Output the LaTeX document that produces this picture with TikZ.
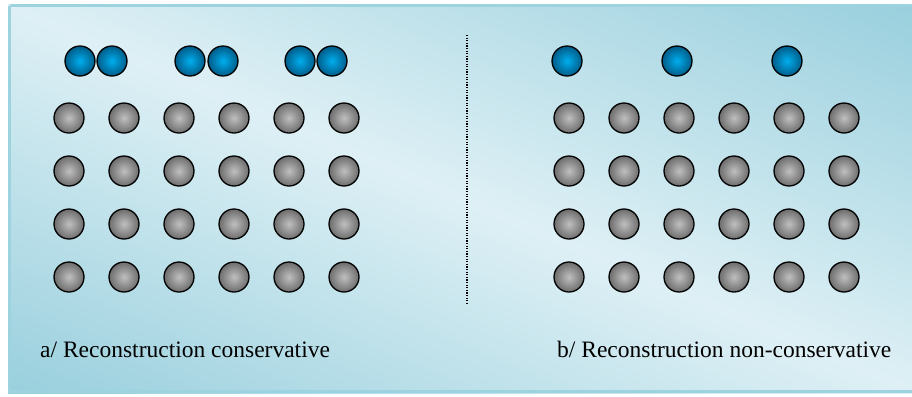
\documentclass[tikz,border=0pt]{standalone}
\usepackage{fontspec}
\setmainfont{Liberation Serif}
\definecolor{bgdark}{HTML}{98CFDD}
\definecolor{bglight}{HTML}{DEF0F5}
\definecolor{bgedge}{HTML}{9DD2DF}
\definecolor{blueball}{HTML}{00AEEF}
\definecolor{blueedge}{HTML}{005C88}
\tikzset{
  grayball/.style={circle, minimum size=30bp, inner sep=0pt, draw=black, line width=1.3bp,
     shade, inner color=gray!50, outer color=gray!85!black},
  blueball/.style={circle, minimum size=30bp, inner sep=0pt, draw=black, line width=1.3bp,
     shade, inner color=blueball, outer color=blueedge},
  caption/.style={font=\fontsize{23.5bp}{28bp}\selectfont, anchor=base west, inner sep=0pt}
}
\begin{document}
\begin{tikzpicture}[x=1bp,y=-1bp]
\useasboundingbox (0,0) rectangle (912,396);
\fill[white] (0,0) rectangle (912,396);
\begin{scope}
  \clip (8,4) rectangle (912,393);
  \begin{scope}[transform canvas={rotate around={-23:(460,198)}}]
    \shade[top color=bgdark, bottom color=bgdark, middle color=bglight]
      (-140,-162) rectangle (1060,558);
  \end{scope}
\end{scope}
\draw[bgedge, line width=3bp] (9.5,5.5) -- (912,5.5);
\draw[bgedge, line width=3bp] (9.5,5.5) -- (9.5,391.5) -- (912,391.5);
% top blue pairs (left)
\foreach \i/\x in {1/80,2/112,3/190,4/223,5/300,6/332}
  \node[blueball] (la\i) at (\x,61) {};
% top blue singles (right)
\foreach \i/\x in {1/567,2/677,3/787}
  \node[blueball] (rb\i) at (\x,61) {};
% gray grids
\foreach \r/\y in {1/118,2/171,3/224,4/277}{
  \foreach \c in {1,...,6}{
    \node[grayball] (lg\r\c) at ({69+55*(\c-1)},\y) {};
    \node[grayball] (rg\r\c) at ({569+55*(\c-1)},\y) {};
  }
}
% divider
\coordinate (dtop) at (467,35);
\coordinate (dbot) at (467,305);
\draw[black, line width=1.2bp, dash pattern=on 1.2bp off 1.4bp] (dtop) -- (dbot);
% captions
\node[caption] (capa) at (40,357) {a/ Reconstruction conservative};
\node[caption] (capb) at (557,357) {b/ Reconstruction non-conservative};
\end{tikzpicture}
\end{document}
